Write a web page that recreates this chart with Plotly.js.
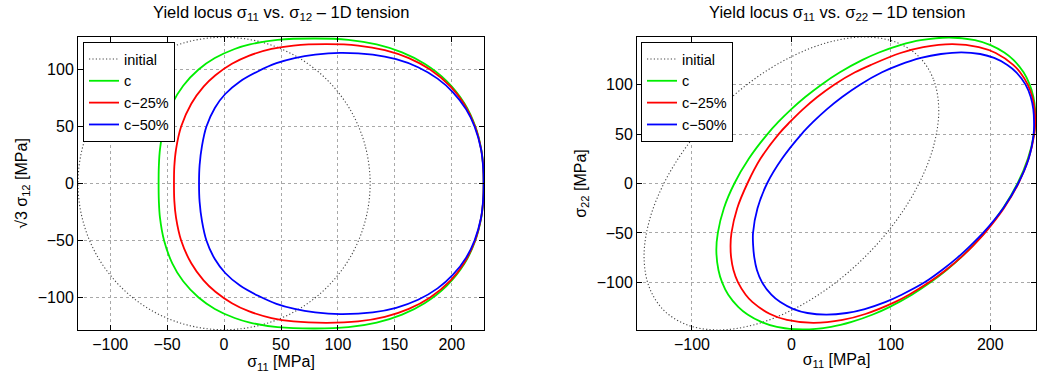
<!DOCTYPE html>
<html>
<head>
<meta charset="utf-8">
<script src="https://cdn.plot.ly/plotly-3.0.1.min.js"></script>
<style>html,body{margin:0;padding:0;background:#fff;}#chart{width:1037px;height:378px;}</style>
</head>
<body>
<div id="chart"></div>
<script>
// ---------- data ----------
const seriesNames = ["initial", "c", "c\u221225%", "c\u221250%"];
const titleLeft = "Yield locus \u03c3<sub>11</sub> vs. \u03c3<sub>12</sub> \u2013 1D tension";
const titleRight = "Yield locus \u03c3<sub>11</sub> vs. \u03c3<sub>22</sub> \u2013 1D tension";
const xTitle = "\u03c3<sub>11</sub> [MPa]";
const yTitleLeft = "\u221a3 \u03c3<sub>12</sub> [MPa]";
const yTitleRight = "\u03c3<sub>22</sub> [MPa]";

// Left panel: sigma11 vs sqrt(3) sigma12
const leftInitX = [128.3,123.9,111.1,90.7,64.2,33.2,0,-33.2,-64.2,-90.7,-111.1,-123.9,-128.3,-123.9,-111.1,-90.7,-64.2,-33.2,0,33.2,64.2,90.7,111.1,123.9,128.3];
const leftInitY = [0,33.2,64.2,90.7,111.1,123.9,128.3,123.9,111.1,90.7,64.2,33.2,0,-33.2,-64.2,-90.7,-111.1,-123.9,-128.3,-123.9,-111.1,-90.7,-64.2,-33.2,0];

const leftCX = [228,227.6,225.9,220.7,211.3,195.3,176.1,156.3,134,109.2,80,47,22.7,9.3,-8.1,-22.4,-35.9,-45.5,-52.7,-56.3,-57.3,-57.5,-57.3,-56.3,-52.7,-45.5,-35.9,-22.4,-8.1,9.3,22.7,47,80,109.2,134,156.3,176.1,195.3,211.3,220.7,225.9,227.6,228];
const leftCY = [0,15,30,50,70,90,105,115,122,126,127.2,126,122,118,110,100,85.8,70,50,30,15,0,-15,-30,-50,-70,-85.8,-100,-110,-118,-122,-126,-127.2,-126,-122,-115,-105,-90,-70,-50,-30,-15,0];

const leftC25X = [228,227.6,225.8,220.5,210.7,199,181,162.3,141.2,117.7,90,60.9,41.7,21.6,6.9,-7.6,-18,-28.8,-37.7,-42.2,-43.7,-44,-43.7,-42.2,-37.7,-28.8,-18,-7.6,6.9,21.6,41.7,60.9,90,117.7,141.2,162.3,181,199,210.7,220.5,225.8,227.6,228];
const leftC25Y = [0,15,30,50,70,85,100,110,117,121,122.2,121,118,112,105,95,85,70,50,30,15,0,-15,-30,-50,-70,-85,-95,-105,-112,-118,-121,-122.2,-121,-117,-110,-100,-85,-70,-50,-30,-15,0];

const leftC50X = [228,227.5,225.7,220,212.6,201.1,187.5,170.4,151.1,130.6,102,80,62,46,30,14,1,-8,-15.5,-19.4,-21.5,-22,-21.5,-19.4,-15.5,-8,1,14,30,46,62,80,102,130.6,151.1,170.4,187.5,201.1,212.6,220,225.7,227.5,228];
const leftC50Y = [0,15,30,50,65,80,92,102,109,113,114.5,113,110,105.5,98.5,89.5,78.5,66.5,50,33,16,0,-16,-33,-50,-66.5,-78.5,-89.5,-98.5,-105.5,-110,-113,-114.5,-113,-109,-102,-92,-80,-65,-50,-30,-15,0];

// Right panel: sigma11 vs sigma22
const rightInitX = [128.3,143.1,148.2,143.1,128.3,104.8,74.1,38.4,0,-38.3,-74.1,-104.7,-128.3,-143.1,-148.2,-143.1,-128.3,-104.8,-74.1,-38.4,0,38.3,74.1,104.7,128.3];
const rightInitY = [128.3,104.7,74.1,38.3,0,-38.4,-74.1,-104.8,-128.3,-143.1,-148.2,-143.1,-128.3,-104.7,-74.1,-38.3,0,38.4,74.1,104.8,128.3,143.1,148.2,143.1,128.3];

const rightCX = [227.4,237.8,244,245.2,245.1,243.4,239.7,233.5,223.3,214.1,200.3,184.6,158.7,130.1,109.4,88.1,71.5,48.8,30.1,13.9,-0.3,-12.9,-24.1,-42.9,-57.4,-67.9,-74,-75.5,-73.4,-69.7,-63.5,-53.3,-44.1,-30.3,-14.6,11.3,39.9,60.6,81.9,98.5,121.2,139.9,156.1,170.3,194.1,212.9,227.4];
const rightCY = [0,25,50,62.5,75,87.5,100,112.5,125,132.5,140,145,147.7,145,140,132.5,125,112.5,100,87.5,75,62.5,50,25,0,-25,-50,-68,-87.5,-100,-112.5,-125,-132.5,-140,-145,-147.7,-145,-140,-132.5,-125,-112.5,-100,-87.5,-75,-50,-25,0];

const rightC25X = [228.3,238.5,244.3,245.2,244.6,242.3,237.7,230,223.1,205.5,188.5,162,132.6,109.7,80,64,43,26,11.5,-1.2,-12.8,-31.2,-44.3,-54.5,-60.3,-61.2,-60.6,-58.3,-53.7,-46,-39.1,-21.5,-4.5,22,51.4,74.4,104,118.3,138.4,155.4,170.2,183.1,194.6,213.7,228.3];
const rightC25Y = [0,25,50,62.5,75,87.5,100,112.5,120,132,138,141,138,132,120,112.5,100,87.5,75,62.5,50,25,0,-25,-50,-62.5,-75,-87.5,-100,-112.5,-120,-132,-138,-141,-138,-132,-120,-112.5,-100,-87.5,-75,-62.5,-50,-25,0];

const rightC50X = [228,238.6,243.6,244,243.3,240.7,235.5,226.2,217.2,203.9,189.9,171,150.4,130.2,108.7,91.1,69,51,35.5,22.1,10.2,-9.5,-24.5,-34.1,-38.6,-38.5,-37.3,-34.7,-29.5,-20.2,-11.2,2.1,16.1,35,55.6,73.8,94.3,110.9,134,151.5,167,180.4,192.8,213,228];
const rightC50Y = [0,25,50,62.5,75,87.5,100,112.5,120,127,131,132.7,131,127,120,112.5,100,87.5,75,62.5,50,25,0,-25,-50,-62.5,-75,-87.5,-100,-112.5,-120,-127,-131,-132.7,-131,-127,-120,-112.5,-100,-87.5,-75,-62.5,-50,-25,0];

const leftXTicks = [-100,-50,0,50,100,150,200];
const leftYTicks = [-100,-50,0,50,100];
const rightXTicks = [-100,0,100,200];
const rightYTicks = [-100,-50,0,50,100];

// ---------- styles ----------
const FONT = "Liberation Sans, Arial, Helvetica, sans-serif";
const FS = 16;
const colors = ["#444444", "#00ee00", "#ff0000", "#0000ff"];

function trace(x, y, i, xa, ya, lg) {
  const isInit = i === 0;
  return {
    x: x, y: y, xaxis: xa, yaxis: ya, legend: lg,
    type: "scatter", mode: "lines", name: seriesNames[i],
    line: {color: colors[i], width: isInit ? 1.1 : 1.8, dash: isInit ? "1.2px,2.2px" : "solid", shape: "spline", smoothing: 1},
    hoverinfo: "skip"
  };
}

const data = [
  trace(leftInitX, leftInitY, 0, "x", "y", "legend"),
  trace(leftCX, leftCY, 1, "x", "y", "legend"),
  trace(leftC25X, leftC25Y, 2, "x", "y", "legend"),
  trace(leftC50X, leftC50Y, 3, "x", "y", "legend"),
  trace(rightInitX, rightInitY, 0, "x2", "y2", "legend2"),
  trace(rightCX, rightCY, 1, "x2", "y2", "legend2"),
  trace(rightC25X, rightC25Y, 2, "x2", "y2", "legend2"),
  trace(rightC50X, rightC50Y, 3, "x2", "y2", "legend2")
];

function axis(range, ticks, domain, anchor, title, standoff) {
  return {
    range: range, domain: domain, anchor: anchor,
    tickmode: "array", tickvals: ticks,
    showline: true, mirror: "allticks", linecolor: "#000", linewidth: 1,
    ticks: "inside", ticklen: 5, tickcolor: "#000", tickwidth: 1,
    showgrid: true, gridcolor: "#a8a8a8", griddash: "dot", gridwidth: 1,
    zeroline: false, automargin: false, fixedrange: true,
    tickfont: {family: FONT, size: FS, color: "#000"},
    title: {text: title, font: {family: FONT, size: FS, color: "#000"}, standoff: standoff}
  };
}

const W = 1037, H = 378;
const yDom = [1 - 330 / H, 1 - 37 / H];

function legendAt(px) {
  return {
    x: px / W, y: 1 - 42 / H, xanchor: "left", yanchor: "top",
    bgcolor: "#fff", bordercolor: "#000", borderwidth: 1,
    font: {family: FONT, size: 14.5, color: "#000"},
    tracegroupgap: 0, itemwidth: 30
  };
}

const layout = {
  width: W, height: H,
  margin: {l: 0, r: 0, t: 0, b: 0},
  paper_bgcolor: "#fff", plot_bgcolor: "#fff",
  font: {family: FONT, size: FS, color: "#000"},
  showlegend: true,
  xaxis: axis([-128.3, 228.3], leftXTicks, [78 / W, 484 / W], "y", xTitle, 1),
  yaxis: axis([-128.5, 128.5], leftYTicks, yDom, "x", yTitleLeft, 6),
  xaxis2: axis([-155.3, 246], rightXTicks, [637 / W, 1036 / W], "y2", xTitle, 1),
  yaxis2: axis([-148.2, 148.2], rightYTicks, yDom, "x2", yTitleRight, 6),
  legend: legendAt(83),
  legend2: legendAt(641),
  annotations: [
    {text: titleLeft, x: (78 + 484) / 2 / W, y: 1 - 13 / H, xref: "paper", yref: "paper", xanchor: "center", yanchor: "middle", showarrow: false, font: {family: FONT, size: 16.5, color: "#000"}},
    {text: titleRight, x: (637 + 1036) / 2 / W, y: 1 - 13 / H, xref: "paper", yref: "paper", xanchor: "center", yanchor: "middle", showarrow: false, font: {family: FONT, size: 16.5, color: "#000"}}
  ]
};

Plotly.newPlot("chart", data, layout, {displayModeBar: false, staticPlot: true});
</script>
</body>
</html>
